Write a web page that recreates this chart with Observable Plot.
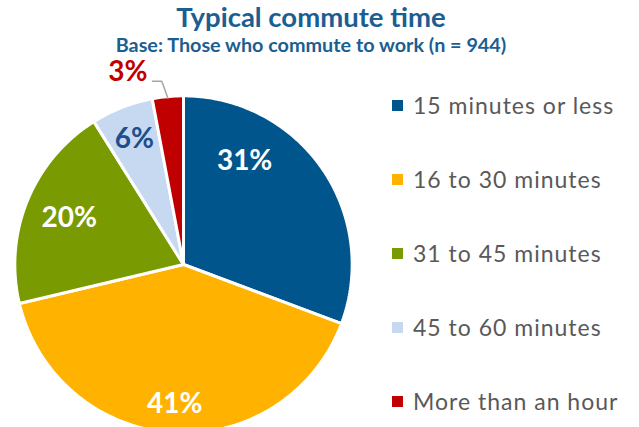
<!DOCTYPE html>
<html>
<head>
<meta charset="utf-8">
<script src="https://cdn.jsdelivr.net/npm/d3@7"></script>
<script src="https://cdn.jsdelivr.net/npm/@observablehq/plot@0.6"></script>
<style>
  html, body { margin: 0; padding: 0; background: #fff; }
  #wrap { position: relative; width: 639px; height: 427px; overflow: hidden; font-family: Lato, "Open Sans", sans-serif; }
  #title { position: absolute; left: 0; width: 622px; top: 3px; text-align: center; font-size: 27.5px; line-height: 1; font-weight: 700; color: #1B5E91; }
  #subtitle { position: absolute; left: 0; width: 622px; top: 35px; text-align: center; font-size: 19.8px; line-height: 1; font-weight: 700; color: #1B5E91; }
  #chart { position: absolute; left: 0; top: 58px; }
  #legend { position: absolute; left: 392px; top: 94px; }
  .item { position: absolute; left: 0; height: 22px; display: flex; align-items: center; white-space: nowrap; font-size: 23px; letter-spacing: 1px; color: #595959; }
  .sw { width: 11px; height: 11px; margin-right: 10px; flex: none; }
</style>
</head>
<body>
<div id="wrap">
  <div id="title"></div>
  <div id="subtitle"></div>
  <div id="chart"></div>
  <div id="legend"></div>
</div>
<script>
// ---- data ----
const titleText = "Typical commute time";
const subtitleText = "Base: Those who commute to work (n = 944)";
const categories = ["15 minutes or less", "16 to 30 minutes", "31 to 45 minutes", "45 to 60 minutes", "More than an hour"];
const shares = [31, 41, 20, 6, 3];
const labels = ["31%", "41%", "20%", "6%", "3%"];

// ---- style / layout ----
const colors = ["#00568C", "#FFB300", "#7A9A01", "#C6D9F0", "#C00000"];
const labelColors = ["white", "white", "white", "#1F4E8C", "#C00000"];
const labelRadius = [0.72, 0.837, 0.74, 0.806, 1.2];
const labelAngleShift = [-24.7, 0, 0, 0, -10.8];
const R = 167, cx = 183, cy = 206; // pixel geometry of the pie inside the svg
const W = 639, H = 369;

document.getElementById("title").textContent = titleText;
document.getElementById("subtitle").textContent = subtitleText;

const total = d3.sum(shares);
const rad = a => a * Math.PI / 180;
const polar = (deg, r) => ({x: r * Math.sin(rad(deg)), y: r * Math.cos(rad(deg))});

// slice polygons (angles clockwise from 12 o'clock)
const slices = [];
const labelRows = [];
let acc = 0;
shares.forEach((v, i) => {
  const a0 = acc / total * 360, a1 = (acc + v) / total * 360;
  acc += v;
  const pts = [{cat: categories[i], x: 0, y: 0}];
  const n = Math.max(2, Math.ceil(a1 - a0));
  for (let k = 0; k <= n; k++) {
    const p = polar(a0 + (a1 - a0) * k / n, 1.01);
    pts.push({cat: categories[i], ...p});
  }
  slices.push(...pts);
  const mid = (a0 + a1) / 2;
  const lp = polar(mid + labelAngleShift[i], labelRadius[i]);
  labelRows.push({label: labels[i], color: labelColors[i], mid, ...lp});
});

// leader line for the small outside label
const last = labelRows[labelRows.length - 1];
const tip = polar(last.mid, 1.0);
const elbow = polar(last.mid - 1.4, 1.105);
const leader = [
  {x: elbow.x - 9.3 / R, y: elbow.y},
  elbow,
  tip
];

const chart = Plot.plot({
  width: W,
  height: H,
  margin: 0,
  style: {fontFamily: "Lato, 'Open Sans', sans-serif", background: "transparent", overflow: "visible"},
  x: {domain: [-1, 1], range: [cx - R, cx + R], axis: null},
  y: {domain: [-1, 1], range: [cy + R, cy - R], axis: null},
  color: {domain: categories, range: colors},
  marks: [
    Plot.line(slices, {x: "x", y: "y", z: "cat", fill: "cat", stroke: "white", strokeWidth: 3, strokeLinejoin: "miter", curve: "linear-closed"}),
    Plot.line(leader, {x: "x", y: "y", stroke: "#A6A6A6", strokeWidth: 1.5}),
    ...labelRows.map(d => Plot.text([d], {x: "x", y: "y", text: "label", fill: d.color, fontSize: 28, fontWeight: 700}))
  ]
});
document.getElementById("chart").appendChild(chart);

// legend
const legend = document.getElementById("legend");
categories.forEach((c, i) => {
  const it = document.createElement("div");
  it.className = "item";
  it.style.top = (i * 74) + "px";
  const sw = document.createElement("span");
  sw.className = "sw";
  sw.style.background = colors[i];
  const tx = document.createElement("span");
  tx.textContent = c;
  it.appendChild(sw);
  it.appendChild(tx);
  legend.appendChild(it);
});
</script>
</body>
</html>
